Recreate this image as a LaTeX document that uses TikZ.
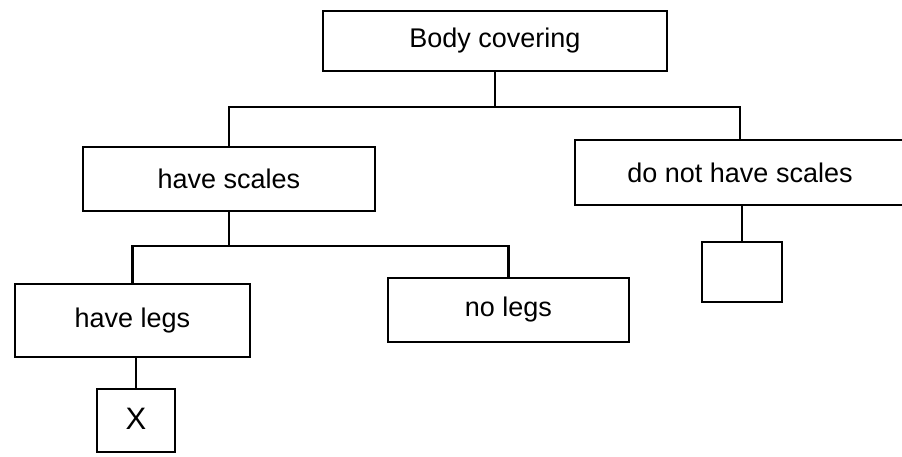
\documentclass[tikz,border=0pt]{standalone}
\usepackage{fontspec}
\setmainfont{Liberation Sans}
\begin{document}
\begin{tikzpicture}[x=1pt,y=-1pt,
  box/.style={draw=black, line width=2.6pt, rectangle, inner sep=0pt,
    font=\fontsize{27}{30}\selectfont},
  link/.style={draw=black, line width=2.4pt}]
\useasboundingbox (0,0) rectangle (902,457);
\clip (0,0) rectangle (902,457);
\node[box, minimum width=344pt, minimum height=60pt] (body) at (495,41) {Body covering};
\node[box, minimum width=292pt, minimum height=64pt] (scales) at (229,179) {have scales};
\node[box, minimum width=330pt, minimum height=65pt] (dns) at (740,172.5) {do not have scales};
\node[box, minimum width=235pt, minimum height=73pt] (legs) at (132.5,320.5) {\raisebox{5pt}{have legs}};
\node[box, minimum width=241pt, minimum height=64pt] (nolegs) at (508.5,310) {\raisebox{3pt}{no legs}};
\node[box, minimum width=80pt, minimum height=60pt] (empty) at (742,272) {};
\node[box, minimum width=78pt, minimum height=63pt, font=\fontsize{31}{34}\selectfont] (xbox) at (136,420.5) {\raisebox{3pt}{X}};
\coordinate (r1) at (0,107);
\coordinate (r2) at (0,246);
\draw[link] (body.south) -- (body.south |- r1);
\draw[link] (scales.north) |- (dns.north |- r1) -- (dns.north);
\draw[link] (scales.south) -- (scales.south |- r2);
\draw[link] (legs.north) |- (nolegs.north |- r2) -- (nolegs.north);
\draw[link] (empty.north) -- (empty.north |- dns.south);
\draw[link] (xbox.north) -- (xbox.north |- legs.south);
\end{tikzpicture}
\end{document}
